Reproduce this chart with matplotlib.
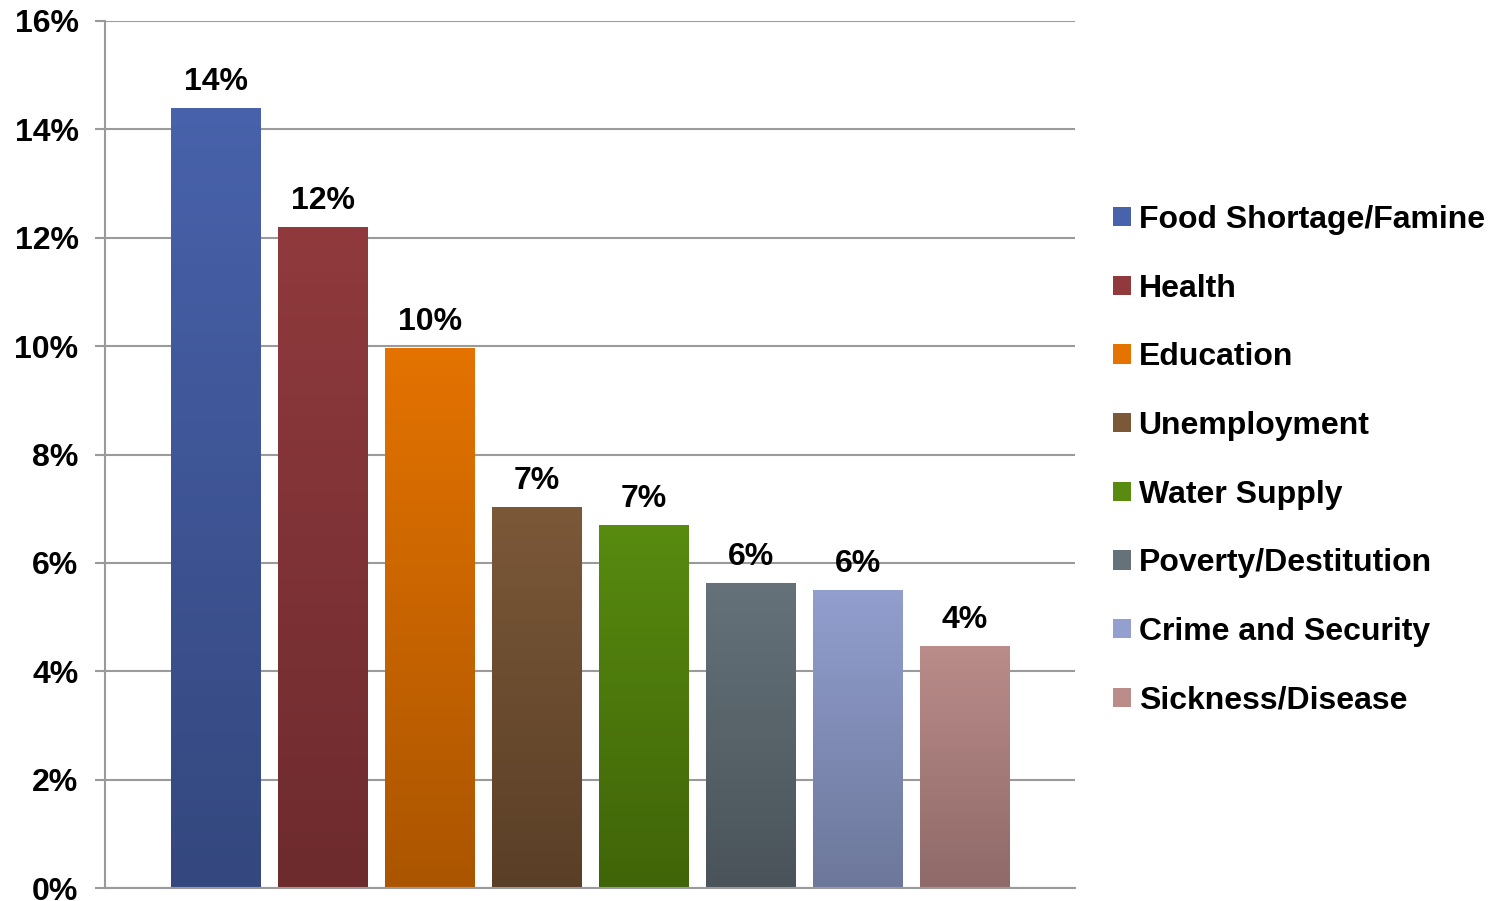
import numpy as np
import matplotlib
matplotlib.use("Agg")
import matplotlib.pyplot as plt
from matplotlib.colors import LinearSegmentedColormap
from matplotlib.patches import Patch

plt.rcParams['font.family'] = ['Liberation Sans', 'DejaVu Sans']
plt.rcParams['font.weight'] = 'bold'

categories = ["Food Shortage/Famine", "Health", "Education", "Unemployment",
              "Water Supply", "Poverty/Destitution", "Crime and Security",
              "Sickness/Disease"]
values = [14.4, 12.2, 9.97, 7.03, 6.7, 5.63, 5.5, 4.47]
labels = ["14%", "12%", "10%", "7%", "7%", "6%", "6%", "4%"]
top_colors = ["#4862ab", "#903a3d", "#e47300", "#7b5838", "#588b10",
              "#657279", "#929fcf", "#ba8c8a"]
bottom_colors = ["#34477e", "#6d2b2e", "#ab5500", "#5a3f27", "#406408",
                 "#4a535a", "#6c779a", "#8f6a68"]

fs = 23

fig = plt.figure(figsize=(14.93, 9.01), dpi=100)
ax = fig.add_axes([105/1493, 1 - 888/901, (1075 - 105)/1493, (888 - 21)/901])

x = np.arange(len(values))
w = 0.84
grad = np.linspace(0, 1, 256).reshape(-1, 1)
for i, v in enumerate(values):
    bar = ax.bar(x[i], v, width=w, color='none', zorder=2)[0]
    cmap = LinearSegmentedColormap.from_list('c%d' % i, [bottom_colors[i], top_colors[i]])
    im = ax.imshow(grad, extent=[x[i] - w/2, x[i] + w/2, 0, v], origin='lower',
                   aspect='auto', cmap=cmap, zorder=2)
    im.set_clip_path(bar)
    ax.annotate(labels[i], (x[i], v), xytext=(0, 8), textcoords='offset points',
                ha='center', va='bottom', fontsize=fs, fontweight='bold')

ax.set_xlim(-1.037, 8.03)
ax.set_ylim(0, 16)
ax.set_yticks(range(0, 17, 2))
ax.set_yticklabels(["%d%%" % t for t in range(0, 17, 2)], fontsize=fs, fontweight='bold')
ax.set_xticks([])
ax.yaxis.grid(True, color='#9a9a9a', linewidth=1.5)
ax.set_axisbelow(True)
ax.tick_params(axis='y', length=7, width=1.5, color='#9a9a9a', pad=12)
for s in ['top', 'right']:
    ax.spines[s].set_visible(False)
ax.spines['left'].set_color('#9a9a9a')
ax.spines['left'].set_linewidth(1.5)
ax.spines['bottom'].set_color('#9a9a9a')
ax.spines['bottom'].set_linewidth(1.5)

handles = [Patch(facecolor=top_colors[i], edgecolor='none') for i in range(len(categories))]
fig.legend(handles, categories, loc='upper left', bbox_to_anchor=(1113/1493, 1 - 205/901),
           frameon=False, fontsize=fs, handlelength=0.55, handleheight=0.55,
           handletextpad=0.25, labelspacing=1.21, borderpad=0, borderaxespad=0)

fig.savefig("out.png", dpi=100)
